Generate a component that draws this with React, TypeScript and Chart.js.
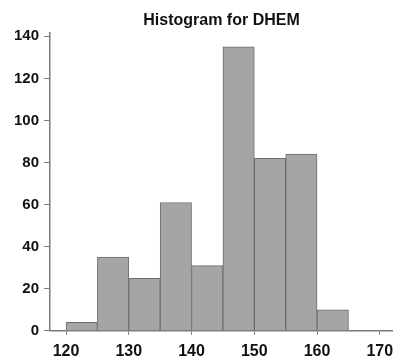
import React, { useEffect, useRef } from "react";
import { Chart, registerables } from "chart.js";

Chart.register(...registerables);

const binCenters = [122.5, 127.5, 132.5, 137.5, 142.5, 147.5, 152.5, 157.5, 162.5];
const counts = [4, 35, 25, 61, 31, 135, 82, 84, 10];
const xTicks = [120, 130, 140, 150, 160, 170];
const yTicks = [0, 20, 40, 60, 80, 100, 120, 140];
const titleText = "Histogram for DHEM";

export default function App() {
  const ref = useRef<HTMLCanvasElement | null>(null);
  useEffect(() => {
    if (!ref.current) return;
    const axisColor = "#7a7a7a";
    const font = { family: "'Liberation Sans', Arial, sans-serif", weight: "bold" as const };
    const chart = new Chart(ref.current, {
      type: "bar",
      data: {
        datasets: [
          {
            data: binCenters.map((x, i) => ({ x, y: counts[i] })),
            backgroundColor: "#a5a5a5",
            borderColor: "#6e6e6e",
            borderWidth: 1,
            barPercentage: 1,
            categoryPercentage: 1,
          },
        ],
      },
      options: {
        responsive: false,
        animation: false,
        layout: { padding: { left: 9, right: 0, top: 0, bottom: -6 } },
        plugins: {
          legend: { display: false },
          tooltip: { enabled: false },
          title: {
            display: true,
            text: titleText,
            fullSize: false,
            color: "#111",
            font: { ...font, size: 16 },
            padding: { top: 11, bottom: 3 },
          },
        },
        scales: {
          x: {
            type: "linear",
            offset: false,
            min: 117.45,
            max: 172.1,
            afterBuildTicks: (s: any) => {
              s.ticks = xTicks.map((v) => ({ value: v }));
            },
            afterFit: (s: any) => {
              s.paddingRight = 0;
            },
            grid: { display: true, drawOnChartArea: false, drawTicks: true, tickLength: 4, color: axisColor, offset: false },
            border: { display: true, color: axisColor, width: 1.5 },
            ticks: { color: "#111", font: { ...font, size: 16 }, padding: 7, autoSkip: false, maxRotation: 0 },
          },
          y: {
            type: "linear",
            min: 0,
            max: 141.5,
            afterBuildTicks: (s: any) => {
              s.ticks = yTicks.map((v) => ({ value: v }));
            },
            grid: { display: true, drawOnChartArea: false, drawTicks: true, tickLength: 6, color: axisColor },
            border: { display: true, color: axisColor, width: 1.5 },
            ticks: { color: "#111", font: { ...font, size: 15 }, padding: 5 },
          },
        },
      },
    });
    return () => chart.destroy();
  }, []);
  return (
    <div style={{ position: "fixed", left: 0, top: 0, width: 393, height: 362, background: "#fff" }}>
      <canvas ref={ref} width={393} height={362} style={{ display: "block" }} />
    </div>
  );
}
